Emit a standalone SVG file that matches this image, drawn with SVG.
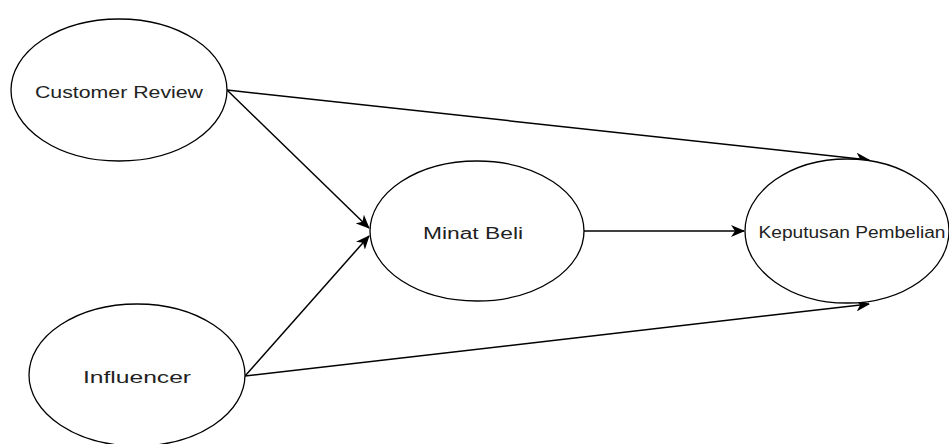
<svg xmlns="http://www.w3.org/2000/svg" width="949" height="444" viewBox="0 0 949 444">
<defs>
<style>
.node ellipse{fill:#fff;stroke:#000;stroke-width:1.3}
.node text{font-family:"Comic Sans MS","Liberation Sans",sans-serif;font-size:16px;fill:#222;text-anchor:middle;dominant-baseline:central}
.edges line{stroke:#000;stroke-width:1.5;fill:none}
</style>
<marker id="arr" viewBox="0 0 14 12" refX="13" refY="6" markerWidth="14" markerHeight="12" markerUnits="userSpaceOnUse" orient="auto">
<path d="M0,0 L14,6 L0,12 L4,6 Z" fill="#000"/>
</marker>
</defs>
<rect width="949" height="444" fill="#fff"/>
<g id="edges" class="edges">
<line x1="227" y1="90" x2="369" y2="228" marker-end="url(#arr)"/>
<line x1="245" y1="376" x2="369" y2="236" marker-end="url(#arr)"/>
<line x1="227" y1="90" x2="869" y2="160" marker-end="url(#arr)"/>
<line x1="584" y1="231" x2="744" y2="231" marker-end="url(#arr)"/>
<line x1="245" y1="376" x2="869" y2="304" marker-end="url(#arr)"/>
</g>
<g id="customer-review" class="node">
<ellipse cx="119" cy="90" rx="108" ry="71"/>
<text x="119" y="92" textLength="168" lengthAdjust="spacingAndGlyphs">Customer Review</text>
</g>
<g id="influencer" class="node">
<ellipse cx="137" cy="375" rx="108" ry="71"/>
<text x="137" y="377" textLength="108" lengthAdjust="spacingAndGlyphs">Influencer</text>
</g>
<g id="minat-beli" class="node">
<ellipse cx="477" cy="231" rx="107" ry="70"/>
<text x="473" y="233" textLength="100" lengthAdjust="spacingAndGlyphs">Minat Beli</text>
</g>
<g id="keputusan-pembelian" class="node">
<ellipse cx="847" cy="231" rx="102" ry="72"/>
<text x="852" y="232" textLength="187" lengthAdjust="spacingAndGlyphs">Keputusan Pembelian</text>
</g>
</svg>
